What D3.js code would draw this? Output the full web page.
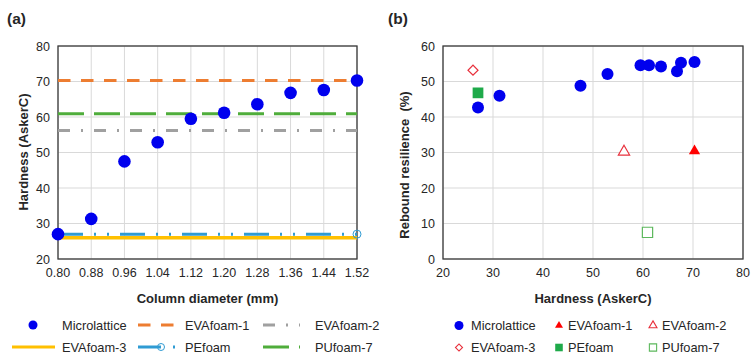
<!DOCTYPE html>
<html>
<head>
<meta charset="utf-8">
<script src="https://cdn.jsdelivr.net/npm/d3@7"></script>
<style>
  body { margin: 0; background: #fff; }
  text { font-family: "Liberation Sans", Arial, sans-serif; fill: #262626; }
  .tick-label { font-size: 12.5px; }
  .axis-title { font-size: 13px; font-weight: bold; }
  .panel-label { font-size: 15.5px; font-weight: bold; }
  .legend-text { font-size: 12.8px; }
</style>
</head>
<body>
<div id="chart"></div>
<script>
// column diameter categories (mm)
const diameters = ["0.80", "0.88", "0.96", "1.04", "1.12", "1.20", "1.28", "1.36", "1.44", "1.52"];
// microlattice hardness (AskerC) and rebound resilience (%)
const latticeHardness = [27.0, 31.3, 47.5, 52.9, 59.5, 61.2, 63.6, 66.8, 67.6, 70.3];
const latticeRebound = [42.7, 46.0, 48.8, 52.1, 54.6, 54.6, 54.2, 52.9, 55.3, 55.5];
// reference foams
const foamNames = ["EVAfoam-1", "EVAfoam-2", "EVAfoam-3", "PEfoam", "PUfoam-7"];
const foamHardness = [70.3, 56.2, 26.0, 27.0, 60.9];
const foamRebound = [30.4, 30.2, 53.2, 46.8, 7.5];
// tick labels
const hardTicks = [20, 30, 40, 50, 60, 70, 80];
const reboundTicks = [0, 10, 20, 30, 40, 50, 60];

const W = 755, H = 362;
const blue = "#0000ee";
const gridColor = "#d9d9d9";
const borderColor = "#3a3a3a";

// line styles of the foams in panel (a)
const foamLine = {
    "EVAfoam-1": { color: "#ed7d31", dash: "12.5,10.5" },
    "EVAfoam-2": { color: "#a0a0a0", dash: "12,11,2,11" },
    "EVAfoam-3": { color: "#ffc000", dash: null },
    "PEfoam":    { color: "#2f9bd3", dash: "25,11,2,11,2,11" },
    "PUfoam-7":  { color: "#4fad3b", dash: "26,10" }
};

// marker styles of the foams in panel (b)
const foamMarker = {
    "EVAfoam-1": { type: d3.symbolTriangle, fill: "#ff0000", stroke: "none", size: 55, rot: 0 },
    "EVAfoam-2": { type: d3.symbolTriangle, fill: "#fff", stroke: "#e8303c", size: 55, rot: 0 },
    "EVAfoam-3": { type: d3.symbolSquare, fill: "#fff", stroke: "#e8303c", size: 50, rot: 45 },
    "PEfoam":    { type: d3.symbolSquare, fill: "#1faa4a", stroke: "none", size: 115, rot: 0 },
    "PUfoam-7":  { type: d3.symbolSquare, fill: "#fff", stroke: "#5cb85c", size: 105, rot: 0 }
};

const svg = d3.select("#chart").append("svg")
    .attr("width", W)
    .attr("height", H);

// ---------- panel (a) ----------
const a = { left: 58, right: 357, top: 46, bottom: 259 };

const xA = d3.scalePoint()
    .domain(diameters)
    .range([a.left, a.right]);

const yA = d3.scaleLinear()
    .domain([20, 80])
    .range([a.bottom, a.top]);

const gA = svg.append("g");

gA.selectAll(".vgrid")
    .data(diameters)
    .enter().append("line")
    .attr("x1", d => xA(d)).attr("x2", d => xA(d))
    .attr("y1", a.top).attr("y2", a.bottom)
    .attr("stroke", gridColor);

gA.selectAll(".hgrid")
    .data(hardTicks)
    .enter().append("line")
    .attr("x1", a.left).attr("x2", a.right)
    .attr("y1", d => yA(d)).attr("y2", d => yA(d))
    .attr("stroke", gridColor);

gA.append("rect")
    .attr("x", a.left).attr("y", a.top)
    .attr("width", a.right - a.left).attr("height", a.bottom - a.top)
    .attr("fill", "none")
    .attr("stroke", borderColor)
    .attr("stroke-width", 1.3);

gA.selectAll(".ytick")
    .data(hardTicks)
    .enter().append("text")
    .attr("class", "tick-label")
    .attr("x", 50)
    .attr("y", d => yA(d) + 4.5)
    .attr("text-anchor", "end")
    .text(d => d);

gA.selectAll(".xtick")
    .data(diameters)
    .enter().append("text")
    .attr("class", "tick-label")
    .attr("x", d => xA(d))
    .attr("y", 277)
    .attr("text-anchor", "middle")
    .text(d => d);

// foam reference lines (EVAfoam-3 drawn under PEfoam)
const lineOrder = ["EVAfoam-3", "EVAfoam-2", "PUfoam-7", "EVAfoam-1", "PEfoam"];
lineOrder.forEach(name => {
    const i = foamNames.indexOf(name);
    const st = foamLine[name];
    gA.append("line")
        .attr("x1", a.left).attr("x2", a.right)
        .attr("y1", yA(foamHardness[i])).attr("y2", yA(foamHardness[i]))
        .attr("stroke", st.color)
        .attr("stroke-width", name === "EVAfoam-3" ? 3.5 : 3)
        .attr("stroke-dasharray", st.dash);
});

// open circle marker at the end of the PEfoam line
gA.append("circle")
    .attr("cx", xA(diameters[diameters.length - 1]))
    .attr("cy", yA(foamHardness[foamNames.indexOf("PEfoam")]))
    .attr("r", 4)
    .attr("fill", "none")
    .attr("stroke", foamLine["PEfoam"].color)
    .attr("stroke-width", 1);

gA.selectAll(".dotA")
    .data(latticeHardness)
    .enter().append("circle")
    .attr("cx", (d, i) => xA(diameters[i]))
    .attr("cy", d => yA(d))
    .attr("r", 6.3)
    .attr("fill", blue);

gA.append("text")
    .attr("class", "axis-title")
    .attr("x", (a.left + a.right) / 2)
    .attr("y", 302.5)
    .attr("text-anchor", "middle")
    .text("Column diameter (mm)");

gA.append("text")
    .attr("class", "axis-title")
    .attr("transform", "translate(" + 28 + "," + 152 + ") rotate(-90)")
    .attr("text-anchor", "middle")
    .text("Hardness (AskerC)");

gA.append("text")
    .attr("class", "panel-label")
    .attr("x", 7)
    .attr("y", 24)
    .text("(a)");

// legend (a)
const legA = [
    { name: "Microlattice", x0: 12, x1: 55, tx: 62, row: 0 },
    { name: "EVAfoam-1", x0: 138, x1: 175, tx: 185, row: 0 },
    { name: "EVAfoam-2", x0: 263, x1: 300, tx: 315, row: 0 },
    { name: "EVAfoam-3", x0: 12, x1: 55, tx: 62, row: 1 },
    { name: "PEfoam", x0: 138, x1: 175, tx: 185, row: 1 },
    { name: "PUfoam-7", x0: 263, x1: 300, tx: 315, row: 1 }
];
const legRowY = [325, 347];

legA.forEach(d => {
    const y = legRowY[d.row];
    if (d.name === "Microlattice") {
        gA.append("circle")
            .attr("cx", (d.x0 + d.x1) / 2 - 0.5).attr("cy", y)
            .attr("r", 4.5).attr("fill", blue);
    } else {
        const st = foamLine[d.name];
        gA.append("line")
            .attr("x1", d.x0).attr("x2", d.x1)
            .attr("y1", y).attr("y2", y)
            .attr("stroke", st.color)
            .attr("stroke-width", 3)
            .attr("stroke-dasharray", d.name === "PEfoam" ? "23,12,2,20" : st.dash);
        if (d.name === "PEfoam") {
            gA.append("circle")
                .attr("cx", 161).attr("cy", y).attr("r", 3.5)
                .attr("fill", "none").attr("stroke", st.color);
        }
    }
    gA.append("text")
        .attr("class", "legend-text")
        .attr("x", d.tx)
        .attr("y", y + 4.5)
        .text(d.name);
});

// ---------- panel (b) ----------
const b = { left: 443, right: 743, top: 46, bottom: 259 };

const xB = d3.scaleLinear()
    .domain([20, 80])
    .range([b.left, b.right]);

const yB = d3.scaleLinear()
    .domain([0, 60])
    .range([b.bottom, b.top]);

const gB = svg.append("g");

gB.selectAll(".vgrid")
    .data(hardTicks)
    .enter().append("line")
    .attr("x1", d => xB(d)).attr("x2", d => xB(d))
    .attr("y1", b.top).attr("y2", b.bottom)
    .attr("stroke", gridColor);

gB.selectAll(".hgrid")
    .data(reboundTicks)
    .enter().append("line")
    .attr("x1", b.left).attr("x2", b.right)
    .attr("y1", d => yB(d)).attr("y2", d => yB(d))
    .attr("stroke", gridColor);

gB.append("rect")
    .attr("x", b.left).attr("y", b.top)
    .attr("width", b.right - b.left).attr("height", b.bottom - b.top)
    .attr("fill", "none")
    .attr("stroke", borderColor)
    .attr("stroke-width", 1.3);

gB.selectAll(".ytick")
    .data(reboundTicks)
    .enter().append("text")
    .attr("class", "tick-label")
    .attr("x", 435)
    .attr("y", d => yB(d) + 4.5)
    .attr("text-anchor", "end")
    .text(d => d);

gB.selectAll(".xtick")
    .data(hardTicks)
    .enter().append("text")
    .attr("class", "tick-label")
    .attr("x", d => xB(d))
    .attr("y", 277)
    .attr("text-anchor", "middle")
    .text(d => d);

gB.selectAll(".foam")
    .data(foamNames)
    .enter().append("path")
    .attr("d", d => d3.symbol(foamMarker[d].type, foamMarker[d].size)())
    .attr("transform", (d, i) => "translate(" + xB(foamHardness[i]) + "," + yB(foamRebound[i]) + ") rotate(" + foamMarker[d].rot + ")")
    .attr("fill", d => foamMarker[d].fill)
    .attr("stroke", d => foamMarker[d].stroke)
    .attr("stroke-width", 1.2);

gB.selectAll(".dotB")
    .data(latticeHardness)
    .enter().append("circle")
    .attr("cx", d => xB(d))
    .attr("cy", (d, i) => yB(latticeRebound[i]))
    .attr("r", 6)
    .attr("fill", blue);

gB.append("text")
    .attr("class", "axis-title")
    .attr("x", (b.left + b.right) / 2)
    .attr("y", 302.5)
    .attr("text-anchor", "middle")
    .text("Hardness (AskerC)");

gB.append("text")
    .attr("class", "axis-title")
    .attr("transform", "translate(" + 409 + "," + 165 + ") rotate(-90)")
    .attr("text-anchor", "middle")
    .attr("xml:space", "preserve")
    .style("white-space", "pre")
    .text("Rebound resilience  (%)");

gB.append("text")
    .attr("class", "panel-label")
    .attr("x", 388)
    .attr("y", 24)
    .text("(b)");

// legend (b)
const legB = [
    { name: "Microlattice", mx: 459, tx: 471, row: 0 },
    { name: "EVAfoam-1", mx: 559, tx: 568, row: 0 },
    { name: "EVAfoam-2", mx: 653, tx: 662, row: 0 },
    { name: "EVAfoam-3", mx: 459, tx: 471, row: 1 },
    { name: "PEfoam", mx: 559, tx: 568, row: 1 },
    { name: "PUfoam-7", mx: 653, tx: 662, row: 1 }
];

legB.forEach(d => {
    const y = legRowY[d.row] + 0.5;
    if (d.name === "Microlattice") {
        gB.append("circle")
            .attr("cx", d.mx).attr("cy", y)
            .attr("r", 4.5).attr("fill", blue);
    } else {
        const m = foamMarker[d.name];
        gB.append("path")
            .attr("d", d3.symbol(m.type, m.size * 0.5)())
            .attr("transform", "translate(" + d.mx + "," + y + ") rotate(" + m.rot + ")")
            .attr("fill", m.fill)
            .attr("stroke", m.stroke)
            .attr("stroke-width", 1.1);
    }
    gB.append("text")
        .attr("class", "legend-text")
        .attr("x", d.tx)
        .attr("y", y + 4.5)
        .text(d.name);
});
</script>
</body>
</html>
